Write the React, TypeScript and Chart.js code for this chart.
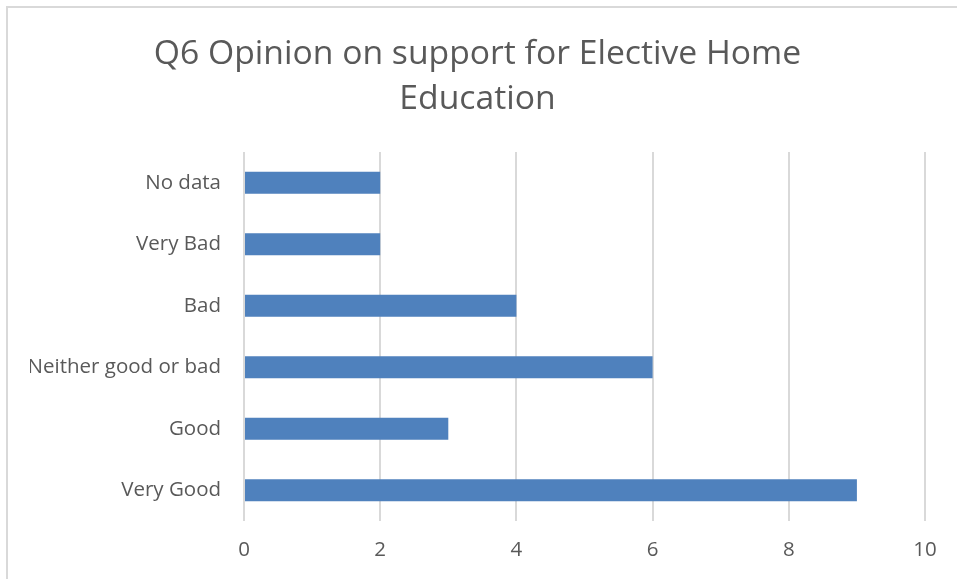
import React, { useEffect, useRef } from "react";
import { Chart, registerables } from "chart.js";

Chart.register(...registerables);

const categories = ["No data", "Very Bad", "Bad", "Neither good or bad", "Good", "Very Good"];
const counts = [2, 2, 4, 6, 3, 9];
const titleLines = ["Q6 Opinion on support for Elective Home", "Education"];
const axisMin = 0;
const axisMax = 10;
const axisStep = 2;

const FONT = "'Open Sans', 'Liberation Sans', sans-serif";
const TEXT = "#595959";

export default function App() {
  const ref = useRef<HTMLCanvasElement | null>(null);
  useEffect(() => {
    document.body.style.margin = "0";
    const ctx = ref.current!.getContext("2d")!;
    const chart = new Chart(ctx, {
      type: "bar",
      data: {
        labels: categories,
        datasets: [
          {
            data: counts,
            backgroundColor: "#4F81BD",
            borderWidth: 0,
            barPercentage: 1,
            categoryPercentage: 0.36,
          },
        ],
      },
      options: {
        indexAxis: "y",
        animation: false,
        responsive: false,
        devicePixelRatio: 1,
        layout: { padding: { left: 30, right: 32, top: 9, bottom: 0 } },
        plugins: {
          legend: { display: false },
          tooltip: { enabled: false },
          title: {
            display: true,
            text: titleLines,
            color: TEXT,
            font: { family: FONT, size: 33.7, weight: "normal", lineHeight: 1.335 },
            padding: { top: 23, bottom: 30 },
          },
        },
        scales: {
          x: {
            min: axisMin,
            max: axisMax,
            ticks: { stepSize: axisStep, color: TEXT, font: { family: FONT, size: 20.5 }, padding: 17 },
            grid: { color: "#D9D9D9", lineWidth: 2, drawTicks: false },
            border: { display: false },
            afterFit: (s: any) => {
              s.height = 58;
            },
          },
          y: {
            ticks: { color: TEXT, font: { family: FONT, size: 20.5 }, padding: 23, autoSkip: false },
            grid: { display: false, drawTicks: false },
            border: { display: false },
            afterFit: (s: any) => {
              s.width = 214;
            },
          },
        },
      },
    });
    return () => chart.destroy();
  }, []);
  return (
    <div style={{ position: "relative", width: 957, height: 579, background: "#fff", overflow: "hidden" }}>
      <canvas ref={ref} width={957} height={579} style={{ position: "absolute", left: 0, top: 0 }} />
      <div
        style={{
          position: "absolute",
          left: 6,
          top: 6,
          width: 1000,
          height: 1000,
          borderLeft: "2px solid #D9D9D9",
          borderTop: "2px solid #D9D9D9",
          pointerEvents: "none",
        }}
      />
    </div>
  );
}
